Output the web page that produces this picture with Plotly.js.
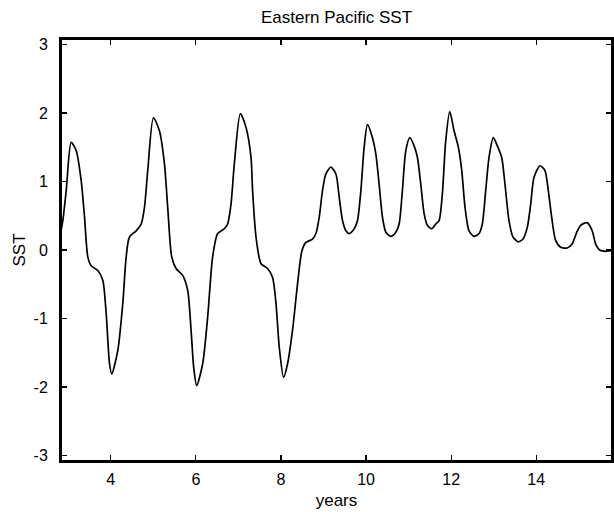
<!DOCTYPE html>
<html>
<head>
<meta charset="utf-8">
<script src="https://cdn.plot.ly/plotly-3.0.1.min.js"></script>
<style>html,body{margin:0;padding:0;background:#fff}#chart{width:614px;height:512px}</style>
</head>
<body>
<div id="chart"></div>
<script>
const years = [2.83,2.873,2.953,3.070,3.188,3.305,3.383,3.460,3.540,3.695,3.812,3.892,3.969,4.023,4.164,4.282,4.362,4.439,4.596,4.714,4.791,4.869,5.002,5.143,5.261,5.338,5.432,5.535,5.690,5.808,5.887,5.948,6.019,6.160,6.277,6.394,6.512,6.669,6.746,6.826,6.904,7.045,7.178,7.296,7.333,7.413,7.531,7.685,7.803,7.883,7.960,8.061,8.155,8.272,8.390,8.493,8.587,8.742,8.822,8.899,8.977,9.056,9.174,9.291,9.369,9.446,9.526,9.603,9.721,9.798,9.878,9.955,10.033,10.150,10.230,10.307,10.385,10.465,10.582,10.700,10.777,10.854,10.934,11.028,11.129,11.207,11.286,11.364,11.441,11.545,11.638,11.716,11.793,11.873,11.967,12.068,12.169,12.249,12.326,12.420,12.537,12.655,12.732,12.812,12.889,12.990,13.085,13.188,13.265,13.359,13.453,13.577,13.688,13.789,13.869,13.946,14.087,14.204,14.282,14.362,14.455,14.573,14.728,14.845,14.939,15.042,15.197,15.315,15.394,15.488,15.629,15.746,15.78];
const sst = [0.28,0.43,0.87,1.57,1.45,1.01,0.48,-0.10,-0.23,-0.30,-0.44,-0.93,-1.65,-1.81,-1.47,-0.78,-0.10,0.19,0.28,0.38,0.62,1.16,1.93,1.74,1.26,0.62,-0.10,-0.27,-0.37,-0.59,-1.17,-1.71,-1.98,-1.66,-0.98,-0.10,0.24,0.31,0.38,0.67,1.26,1.99,1.79,1.35,0.87,0.19,-0.20,-0.27,-0.40,-0.78,-1.42,-1.86,-1.66,-1.17,-0.49,-0.01,0.11,0.16,0.24,0.48,0.87,1.11,1.21,1.11,0.77,0.43,0.28,0.24,0.31,0.43,0.87,1.50,1.83,1.64,1.40,0.96,0.48,0.26,0.20,0.26,0.38,0.87,1.45,1.64,1.52,1.35,0.96,0.53,0.36,0.31,0.38,0.43,0.82,1.60,2.02,1.74,1.50,1.16,0.62,0.28,0.20,0.24,0.38,0.87,1.35,1.64,1.52,1.35,0.96,0.43,0.19,0.12,0.16,0.33,0.67,1.06,1.23,1.16,0.87,0.48,0.14,0.04,0.03,0.09,0.24,0.36,0.40,0.28,0.09,0.00,-0.02,-0.01,-0.01];
const xTicks = [4,6,8,10,12,14];
const yTicks = [-3,-2,-1,0,1,2,3];
const xRange = [2.83, 15.78];
const yRange = [-3.08, 3.08];

const font = {family: '"Liberation Sans", Arial, Helvetica, sans-serif', color: '#000'};

const trace = {
  x: years, y: sst, type: 'scatter', mode: 'lines',
  line: {color: '#000', width: 1.7, shape: 'spline', smoothing: 0.7},
  hoverinfo: 'skip'
};

const axisCommon = {
  showgrid: false, zeroline: false, showline: true, linecolor: '#000', linewidth: 2,
  mirror: 'allticks', ticks: 'inside', ticklen: 6, tickwidth: 1.2, tickcolor: '#000',
  tickfont: Object.assign({size: 16}, font), automargin: false
};

const layout = {
  width: 614, height: 512,
  margin: {l: 61, r: 2, t: 39, b: 51},
  paper_bgcolor: '#fff', plot_bgcolor: '#fff',
  showlegend: false,
  font: font,
  title: {text: 'Eastern Pacific SST', font: Object.assign({size: 17}, font),
          x: 0.5, xref: 'paper', xanchor: 'center', y: 0.967, yref: 'container', yanchor: 'middle'},
  xaxis: Object.assign({}, axisCommon, {
    range: xRange, tickvals: xTicks, ticktext: xTicks.map(String), ticklabelstandoff: 3,
    title: {text: 'years', font: Object.assign({size: 17}, font), standoff: 7}
  }),
  yaxis: Object.assign({}, axisCommon, {
    range: yRange, tickvals: yTicks, ticktext: yTicks.map(String), ticklabelstandoff: 8,
    title: {text: 'SST', font: Object.assign({size: 17}, font), standoff: 4}
  }),
  shapes: [{type: 'rect', xref: 'paper', yref: 'paper', x0: 0, x1: 1, y0: 0, y1: 1,
            line: {color: '#000', width: 2}, fillcolor: 'rgba(0,0,0,0)', layer: 'above'}]
};

Plotly.newPlot('chart', [trace], layout, {displayModeBar: false, staticPlot: true});
</script>
</body>
</html>
